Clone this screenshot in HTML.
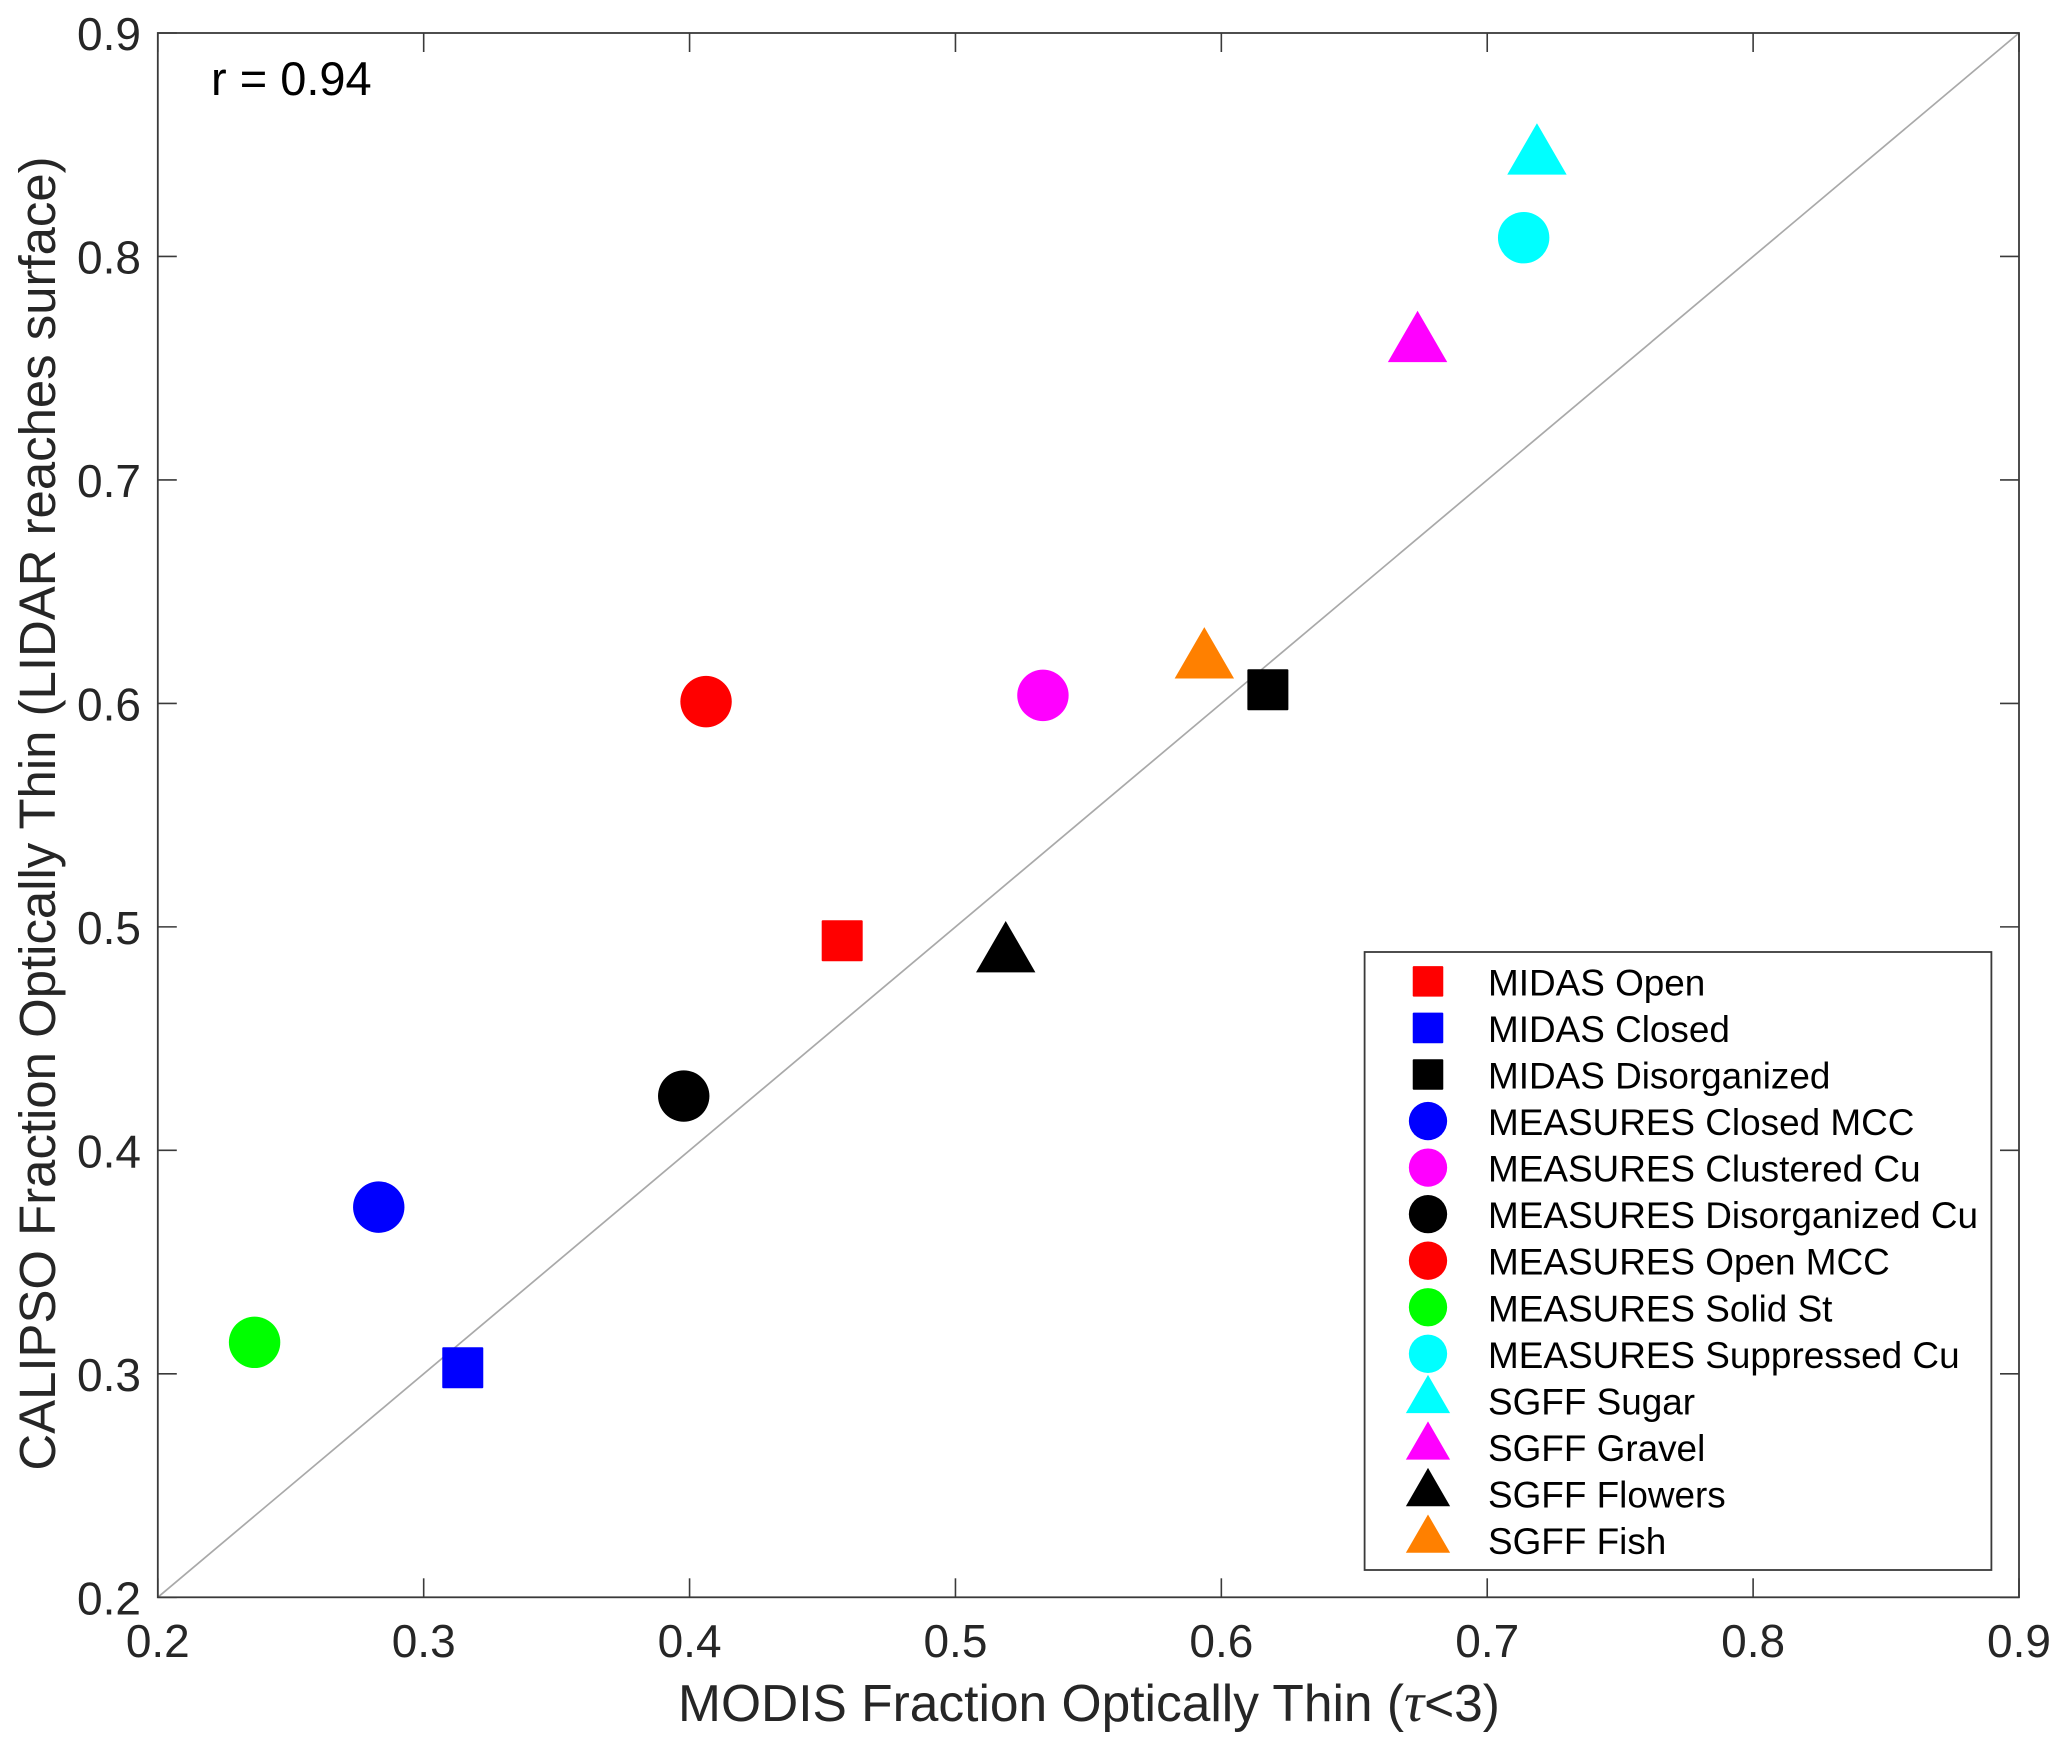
<!DOCTYPE html>
<html>
<head>
<meta charset="utf-8">
<title>MODIS vs CALIPSO Fraction Optically Thin</title>
<style>
html,body{margin:0;padding:0;background:#fff;}
svg{display:block;}
text{font-family:"Liberation Sans",Arial,sans-serif;}
</style>
</head>
<body>
<svg id="chart" xmlns="http://www.w3.org/2000/svg" width="2067" height="1750" viewBox="0 0 2067 1750">
  <rect x="0" y="0" width="2067" height="1750" fill="#ffffff"/>
  <text x="1089" y="1721" text-anchor="middle" font-size="51.5" fill="#262626">MODIS Fraction Optically Thin (<tspan font-family="'Liberation Serif',serif" font-style="italic" font-size="56">τ</tspan>&lt;3)</text>
  <text transform="translate(55,813.5) rotate(-90)" text-anchor="middle" font-size="50.9" fill="#262626">CALIPSO Fraction Optically Thin (LIDAR reaches surface)</text>
  <text x="211" y="95" font-size="47" fill="#000000">r = 0.94</text>
</svg>
<script>
// Chart data
var categories = ["MIDAS Open","MIDAS Closed","MIDAS Disorganized","MEASURES Closed MCC","MEASURES Clustered Cu","MEASURES Disorganized Cu","MEASURES Open MCC","MEASURES Solid St","MEASURES Suppressed Cu","SGFF Sugar","SGFF Gravel","SGFF Flowers","SGFF Fish"];
var modisThin = [0.4574,0.3147,0.6175,0.2831,0.5329,0.3978,0.4062,0.2364,0.7137,0.7187,0.6738,0.5189,0.5936];
var calipsoThin = [0.4938,0.3027,0.6061,0.3746,0.6036,0.4243,0.6008,0.3141,0.8084,0.8443,0.7604,0.4873,0.6188];
var markerKinds = ["square","square","square","circle","circle","circle","circle","circle","circle","triangle","triangle","triangle","triangle"];
var markerColors = ["#ff0000","#0000ff","#000000","#0000ff","#ff00ff","#000000","#ff0000","#00ff00","#00ffff","#00ffff","#ff00ff","#000000","#ff8000"];
var xTickValues = [0.2,0.3,0.4,0.5,0.6,0.7,0.8,0.9];
var yTickValues = [0.2,0.3,0.4,0.5,0.6,0.7,0.8,0.9];
var xTickLabels = ["0.2","0.3","0.4","0.5","0.6","0.7","0.8","0.9"];
var yTickLabels = ["0.2","0.3","0.4","0.5","0.6","0.7","0.8","0.9"];
var referenceLine = [0.2,0.9];

var NS = "http://www.w3.org/2000/svg";
var svg = document.getElementById("chart");
var plot = {left:157.8,right:2019,top:33,bottom:1597.3};
var domainMin = 0.2, domainMax = 0.9;
function xScale(v){ return plot.left + (v-domainMin)/(domainMax-domainMin)*(plot.right-plot.left); }
function yScale(v){ return plot.bottom - (v-domainMin)/(domainMax-domainMin)*(plot.bottom-plot.top); }
function make(tag, props){
  var el = document.createElementNS(NS, tag);
  for (var k in props) el.setAttribute(k, props[k]);
  return el;
}
function slug(s){ return s.toLowerCase().replace(/[^a-z0-9]+/g,"-"); }
function marker(kind, cx, cy, color, scale){
  var el;
  if (kind === "square") {
    var s = 41*scale;
    el = make("rect",{x:cx-s/2,y:cy-s/2,width:s,height:s,rx:1,fill:color});
  } else if (kind === "circle") {
    el = make("circle",{cx:cx,cy:cy,r:25.7*scale,fill:color});
  } else {
    var w = 59.4*scale, h = 51.4*scale;
    el = make("polygon",{points:[cx,cy-h*2/3].join(",")+" "+[cx-w/2,cy+h/3].join(",")+" "+[cx+w/2,cy+h/3].join(","),fill:color});
  }
  return el;
}

// Reference 1:1 line
var ref = make("line",{x1:xScale(referenceLine[0]),y1:yScale(referenceLine[0]),x2:xScale(referenceLine[1]),y2:yScale(referenceLine[1]),stroke:"#a9a9a9","stroke-width":1.7});


svg.appendChild(ref);

// Data markers
categories.forEach(function(name,i){
  var m = marker(markerKinds[i], xScale(modisThin[i]), yScale(calipsoThin[i]), markerColors[i], 1);
  
  
  svg.appendChild(m);
});

// Axes box
var box = make("rect",{x:plot.left,y:plot.top,width:plot.right-plot.left,height:plot.bottom-plot.top,fill:"none",stroke:"#3a3a3a","stroke-width":1.8});


svg.appendChild(box);

// Ticks and labels
var tickLen = 19;
xTickValues.forEach(function(v,i){
  var x = xScale(v);
  var t1 = make("line",{x1:x,y1:plot.bottom,x2:x,y2:plot.bottom-tickLen,stroke:"#3a3a3a","stroke-width":1.6});
  
  
  svg.appendChild(t1);
  var t2 = make("line",{x1:x,y1:plot.top,x2:x,y2:plot.top+tickLen,stroke:"#3a3a3a","stroke-width":1.6});
  
  
  svg.appendChild(t2);
  var lab = make("text",{x:x,y:1657,"text-anchor":"middle","font-size":46,fill:"#262626"});
  lab.textContent = xTickLabels[i];
  
  
  svg.appendChild(lab);
});
yTickValues.forEach(function(v,i){
  var y = yScale(v);
  var t1 = make("line",{x1:plot.left,y1:y,x2:plot.left+tickLen,y2:y,stroke:"#3a3a3a","stroke-width":1.6});
  
  
  svg.appendChild(t1);
  var t2 = make("line",{x1:plot.right,y1:y,x2:plot.right-tickLen,y2:y,stroke:"#3a3a3a","stroke-width":1.6});
  
  
  svg.appendChild(t2);
  var lab = make("text",{x:141,y:y+17,"text-anchor":"end","font-size":46,fill:"#262626"});
  lab.textContent = yTickLabels[i];
  
  
  svg.appendChild(lab);
});

// Legend
var legendBox = make("rect",{x:1364.6,y:952,width:626.8,height:618,fill:"#ffffff",stroke:"#3a3a3a","stroke-width":1.8});


svg.appendChild(legendBox);
categories.forEach(function(name,i){
  var cy = 981.4 + i*46.55;
  var g = make("g",{});
  
  
  var mk = marker(markerKinds[i], 1428, cy, markerColors[i], 0.745);
  
  
  g.appendChild(mk);
  var tx = make("text",{x:1488,y:cy+14,"font-size":36.9,fill:"#000000"});
  tx.textContent = name;
  
  
  g.appendChild(tx);
  svg.appendChild(g);
});
</script>
</body>
</html>
